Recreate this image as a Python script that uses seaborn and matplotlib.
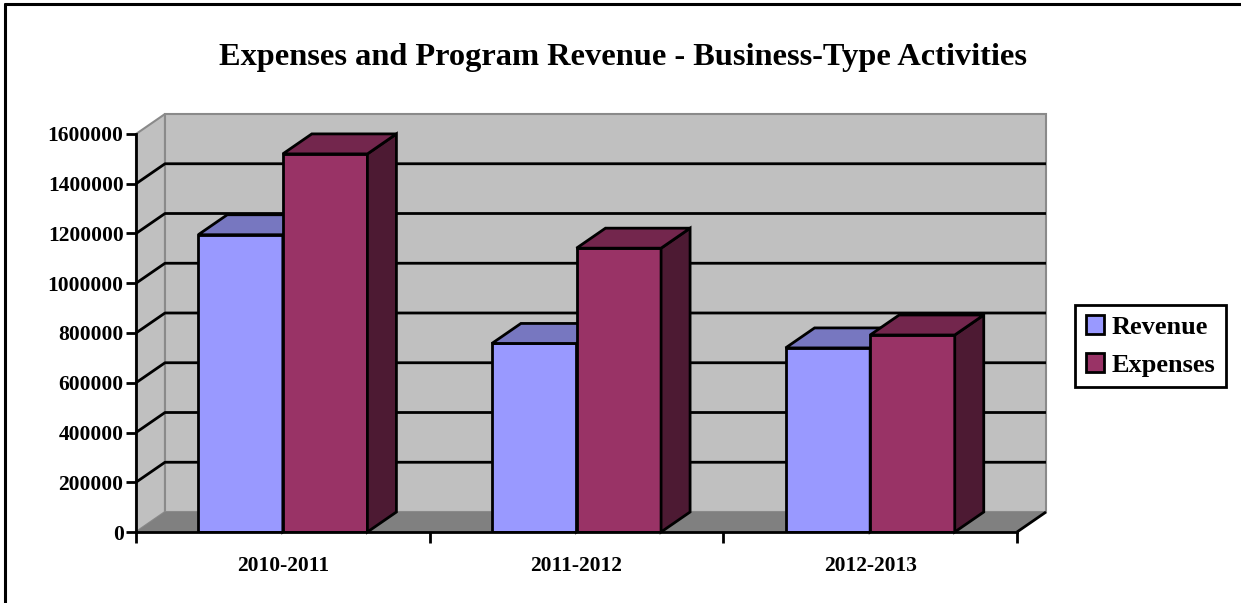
import matplotlib
matplotlib.use("Agg")
import matplotlib.pyplot as plt
from matplotlib.patches import Polygon, Patch
from matplotlib.lines import Line2D
import numpy as np
import pandas as pd
import seaborn as sns

# ---- data -------------------------------------------------------------
periods = ["2010-2011", "2011-2012", "2012-2013"]
revenue = [1195000, 758000, 740000]
expenses = [1520000, 1141000, 792000]
series_names = ["Revenue", "Expenses"]
y_ticks = [0, 200000, 400000, 600000, 800000, 1000000, 1200000, 1400000, 1600000]

# ---- styling ----------------------------------------------------------
front_colors = ["#9999FF", "#993366"]
top_colors = ["#7777C0", "#73264D"]
side_colors = ["#4D4D80", "#4D1A33"]
wall_color = "#C0C0C0"
floor_color = "#808080"
edge_gray = "#8A8A8A"
FONT = "Liberation Serif"

sns.set_theme(style="white")
plt.rcParams["font.family"] = [FONT, "DejaVu Serif"]
plt.rcParams["text.color"] = "black"

W, H = 1241, 603
fig = plt.figure(figsize=(W / 100, H / 100), dpi=100)
fig.patch.set_facecolor("white")

# plot area: front axis origin, back wall top-right corner
x_front, x_back_right = 136, 1046
y_zero, y_top_back = 532, 114
ax = fig.add_axes([x_front / W, (H - y_zero) / H,
                   (x_back_right - x_front) / W, (y_zero - y_top_back) / H])
ax.set_facecolor("white")

ymax = y_ticks[-1]
px_per_cat = 293.67
px_per_val = 49.75 / 200000
ddx = 29 / px_per_cat          # depth offset, category units
ddy = 20 / px_per_val          # depth offset, value units
x_lo, x_hi = -0.5, len(periods) - 0.5

df = pd.DataFrame({
    "Period": periods * 2,
    "Series": [series_names[0]] * len(periods) + [series_names[1]] * len(periods),
    "Value": revenue + expenses,
})

sns.barplot(data=df, x="Period", y="Value", hue="Series",
            palette=front_colors, saturation=1, width=0.576, gap=0,
            edgecolor="black", linewidth=2, legend=False, ax=ax)

# ---- 3D walls and floor ----------------------------------------------
side_wall = Polygon([(x_lo, 0), (x_lo + ddx, ddy), (x_lo + ddx, ymax + ddy), (x_lo, ymax)],
                    closed=True, facecolor=wall_color, edgecolor=edge_gray,
                    linewidth=1.5, zorder=0.5, clip_on=False)
back_wall = Polygon([(x_lo + ddx, ddy), (x_hi + ddx, ddy), (x_hi + ddx, ymax + ddy),
                     (x_lo + ddx, ymax + ddy)],
                    closed=True, facecolor=wall_color, edgecolor=edge_gray,
                    linewidth=1.5, zorder=0.5, clip_on=False)
floor = Polygon([(x_lo, 0), (x_hi, 0), (x_hi + ddx, ddy), (x_lo + ddx, ddy)],
                closed=True, facecolor=floor_color, edgecolor="none",
                zorder=0.6, clip_on=False)
for p in (side_wall, back_wall, floor):
    ax.add_patch(p)
ax.plot([x_hi, x_hi + ddx], [0, ddy], color="black", lw=2, zorder=0.8,
        clip_on=False, solid_capstyle="butt")

# gridlines across the side and back walls
for v in y_ticks[1:-1]:
    ax.plot([x_lo, x_lo + ddx, x_hi + ddx], [v, v + ddy, v + ddy],
            color="black", lw=2, zorder=0.7, clip_on=False,
            solid_capstyle="butt")

# ---- 3D bar faces (top and side) -------------------------------------
for k, cont in enumerate(ax.containers):
    z = 2 + k
    for bar in cont.patches:
        bar.set_zorder(z)
        bar.set_joinstyle("miter")
        x0, w, h = bar.get_x(), bar.get_width(), bar.get_height()
        top = Polygon([(x0, h), (x0 + w, h), (x0 + w + ddx, h + ddy), (x0 + ddx, h + ddy)],
                      closed=True, facecolor=top_colors[k], edgecolor="black",
                      linewidth=2, joinstyle="miter", zorder=z + 0.1, clip_on=False)
        side = Polygon([(x0 + w, 0), (x0 + w + ddx, ddy), (x0 + w + ddx, h + ddy), (x0 + w, h)],
                       closed=True, facecolor=side_colors[k], edgecolor="black",
                       linewidth=2, joinstyle="miter", zorder=z + 0.1, clip_on=False)
        ax.add_patch(side)
        ax.add_patch(top)

# ---- axes ------------------------------------------------------------
ax.set_xlim(x_lo, x_hi + ddx)
ax.set_ylim(0, ymax + ddy)
for s in ("top", "right"):
    ax.spines[s].set_visible(False)
for s in ("left", "bottom"):
    ax.spines[s].set_color("black")
    ax.spines[s].set_linewidth(2)
    ax.spines[s].set_zorder(6)
ax.spines["left"].set_bounds(0, ymax)
ax.spines["bottom"].set_bounds(x_lo, x_hi)

ax.set_yticks(y_ticks)
ax.set_yticklabels([str(v) for v in y_ticks])
ax.set_xticks(range(len(periods)))
ax.set_xticklabels(periods)
ax.set_xticks(np.arange(x_lo, x_hi + 0.01, 1.0), minor=True)
ax.tick_params(axis="y", which="major", direction="out", length=7, width=2,
               color="black", pad=2, labelsize=15.5, labelcolor="black", left=True)
ax.tick_params(axis="x", which="major", length=0, pad=17, labelsize=15.5,
               labelcolor="black")
ax.tick_params(axis="x", which="minor", direction="out", length=8, width=2,
               color="black", bottom=True)
for lab in ax.get_yticklabels() + ax.get_xticklabels():
    lab.set_fontweight("bold")
    lab.set_fontfamily(FONT)
ax.set_xlabel("")
ax.set_ylabel("")
ax.grid(False)

# ---- title -----------------------------------------------------------
fig.text(623 / W, 1 - 57 / H, "Expenses and Program Revenue - Business-Type Activities",
         ha="center", va="center", fontsize=23.3, fontweight="bold",
         family=FONT, color="black")

# ---- legend ----------------------------------------------------------
handles = [Patch(facecolor=c, edgecolor="black", linewidth=2) for c in front_colors]
leg = fig.legend(handles, series_names, loc="center left",
                 bbox_to_anchor=(1075 / W, 1 - 346 / H),
                 prop={"family": FONT, "weight": "bold", "size": 19},
                 labelcolor="black",
                 frameon=True, fancybox=False, framealpha=1, edgecolor="black",
                 handlelength=0.7, handleheight=0.7, handletextpad=0.3,
                 borderpad=0.4, labelspacing=0.55, borderaxespad=0)
leg.get_frame().set_linewidth(2)

# ---- page border (left and top edges) --------------------------------
fig.add_artist(Line2D([5 / W, 5 / W], [0, 1 - 4 / H], color="black", lw=2.2,
                      transform=fig.transFigure))
fig.add_artist(Line2D([5 / W, 1], [1 - 4 / H, 1 - 4 / H], color="black", lw=2.2,
                      transform=fig.transFigure))

fig.savefig("out.png", dpi=100, facecolor="white")
